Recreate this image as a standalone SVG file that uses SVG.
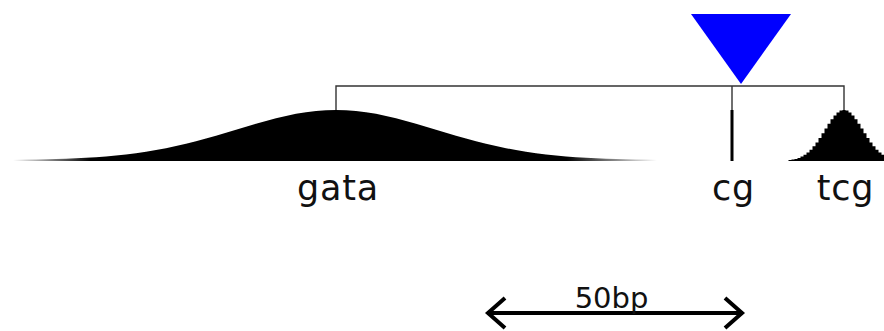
<svg xmlns="http://www.w3.org/2000/svg" width="884" height="331" viewBox="0 0 884 331">
<style>
.lbl{font-family:"DejaVu Sans","Verdana",sans-serif;font-size:35px;letter-spacing:0.8px;fill:#111;text-anchor:middle}
.scale{font-family:"DejaVu Sans","Verdana",sans-serif;font-size:29px;fill:#111;text-anchor:middle}
.conn{stroke:#333;stroke-width:1.4;fill:none}
.arrow{stroke:#000;stroke-width:4;fill:none}
</style>
<defs>
<linearGradient id="fade" gradientUnits="userSpaceOnUse" x1="13" y1="0" x2="657" y2="0">
<stop offset="0" stop-color="#000" stop-opacity="0"/>
<stop offset="0.12" stop-color="#000" stop-opacity="1"/>
<stop offset="0.86" stop-color="#000" stop-opacity="1"/>
<stop offset="1" stop-color="#000" stop-opacity="0"/>
</linearGradient>
</defs>
<rect width="884" height="331" fill="#fff"/>
<g id="connectors">
<path class="conn" d="M336,110V86H844V110M732,86V110"/>
</g>
<g id="marker-triangle">
<polygon points="691,14 791,14 741,84" fill="#0000ff"/>
</g>
<g id="gata">
<path fill="url(#fade)" d="M13,161 L13,159.75 L16,159.7 L26,159.6 L36,159.45 L46,159.25 L56,159 L66,158.7 L76,158.3 L86,157.8 L96,157.2 L106,156.5 L116,155.6 L126,154.5 L136,153.2 L146,151.8 L156,150.1 L166,148.2 L176,146.1 L186,143.8 L196,141.2 L206,138.5 L216,135.7 L226,132.7 L236,129.7 L246,126.7 L256,123.7 L266,120.9 L276,118.2 L286,115.9 L296,113.85 L306,112.2 L316,111 L326,110.25 L336,110 L346,110.25 L356,111 L366,112.2 L376,113.85 L386,115.9 L396,118.2 L406,120.9 L416,123.7 L426,126.7 L436,129.7 L446,132.7 L456,135.7 L466,138.5 L476,141.2 L486,143.8 L496,146.1 L506,148.2 L516,150.1 L526,151.8 L536,153.2 L546,154.5 L556,155.6 L566,156.5 L576,157.2 L586,157.8 L596,158.3 L606,158.7 L616,159 L626,159.25 L636,159.45 L646,159.6 L656,159.7 L657,159.75 L657,161 Z"/>
<text class="lbl" x="338" y="200">gata</text>
</g>
<g id="cg">
<rect x="730.5" y="110" width="3" height="51" fill="#000"/>
<text class="lbl" x="733.5" y="200">cg</text>
</g>
<g id="tcg">
<path fill="#000" d="M788.5,161 V160.1 H791.5 V159.6 H794.5 V158.9 H797.5 V157.9 H800.5 V156.6 H803.5 V154.8 H806.5 V152.5 H809.5 V149.7 H812.5 V146.3 H815.5 V142.4 H818.5 V138 H821.5 V133.3 H824.5 V128.4 H827.5 V123.7 H830.5 V119.2 H833.5 V115.4 H836.5 V112.5 H839.5 V110.6 H842.5 V110 H845.5 V110.6 H848.5 V112.5 H851.5 V115.4 H854.5 V119.2 H857.5 V123.7 H860.5 V128.4 H863.5 V133.3 H866.5 V138 H869.5 V142.4 H872.5 V146.3 H875.5 V149.7 H878.5 V152.5 H881.5 V154.8 H884.5 V161 Z"/>
<text class="lbl" x="845.5" y="200">tcg</text>
</g>
<g id="scale-bar">
<path class="arrow" d="M488,313H742M505,298L488,313L505,328M725,298L742,313L725,328"/>
<text class="scale" x="611.5" y="308">50bp</text>
</g>
</svg>
